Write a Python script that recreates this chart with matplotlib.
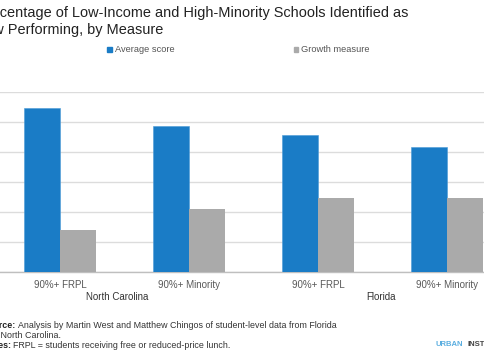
import matplotlib
matplotlib.use("Agg")
import matplotlib.pyplot as plt
from matplotlib.patches import Patch
import numpy as np

# data (percent of schools flagged as low performing)
categories = ["90%+ FRPL", "90%+ Minority", "90%+ FRPL", "90%+ Minority"]
states = ["North Carolina", "Florida"]
avg_score = [27.3, 24.3, 22.8, 20.8]
growth = [7.0, 10.5, 12.3, 12.3]

blue = "#1a7cc6"
grey = "#aaaaaa"

plt.rcParams["font.family"] = ["Liberation Sans", "DejaVu Sans"]

fig = plt.figure(figsize=(4.85, 3.6), dpi=100)
W, H = 485.0, 360.0

# axes is wider than the picture (reference is cropped at both sides)
ax = fig.add_axes([-4.5 / W, (H - 272) / H, 516 / W, 180 / H])
x = np.arange(len(categories))
bw = 0.28
ax.bar(x - bw / 2, avg_score, bw, color=blue, edgecolor="#4a9ad6", linewidth=0.4, zorder=3)
ax.bar(x + bw / 2, growth, bw, color=grey, zorder=3)
ax.set_xlim(-0.5, 3.5)
ax.set_ylim(0, 30)
ax.set_yticks([0, 5, 10, 15, 20, 25, 30])
ax.yaxis.grid(True, color="#dcdcdc", linewidth=1.0, zorder=0)
ax.tick_params(axis="y", left=False, labelleft=False)
ax.set_xticks(x)
ax.set_xticklabels(categories, fontsize=7, color="#595959")
ax.tick_params(axis="x", length=0, pad=6)
for s in ["top", "right", "left"]:
    ax.spines[s].set_visible(False)
ax.spines["bottom"].set_color("#bfbfbf")
ax.spines["bottom"].set_linewidth(1.0)

# state group labels
fig.text(117 / W, 1 - 297 / H, states[0], fontsize=7, color="#333333", ha="center", va="center")
fig.text(381 / W, 1 - 297 / H, states[1], fontsize=7, color="#333333", ha="center", va="center")

# title (left part cut off)
fig.text(-23 / W, 1 - 13 / H, "Percentage of Low-Income and High-Minority Schools Identified as",
         fontsize=10.45, color="#222222", va="center", ha="left")
fig.text(-23 / W, 1 - 30 / H, "Low Performing, by Measure",
         fontsize=10.45, color="#222222", va="center", ha="left")

# legend
handles = [Patch(color=blue, label="Average score"), Patch(color=grey, label="Growth measure")]
fig.legend(handles=handles, ncol=2, loc="center left", bbox_to_anchor=(99 / W, 1 - 50 / H),
           frameon=False, fontsize=6.7, handlelength=0.5, handleheight=0.5, handletextpad=0.3,
           columnspacing=12.8, labelcolor="#555555")

# footer: bold prefix then normal text
fx = -17 / W
renderer = fig.canvas.get_renderer()


def footer_line(y, bold, rest):
    t = fig.text(fx, 1 - y / H, bold, fontsize=6.4, color="#222222", va="center", fontweight="bold")
    bb = t.get_window_extent(renderer)
    fig.text(bb.x1 / W + 2 / W, 1 - y / H, rest, fontsize=6.4, color="#333333", va="center")


footer_line(326, "Source:", "Analysis by Martin West and Matthew Chingos of student-level data from Florida")
fig.text(fx, 1 - 336 / H, "and North Carolina.", fontsize=6.4, color="#333333", va="center")
footer_line(346, "Notes:", "FRPL = students receiving free or reduced-price lunch.")

fig.text(436 / W, 1 - 345 / H, "URBAN", fontsize=5.5, color="#5aaee0", fontweight="bold", va="center")
fig.text(468 / W, 1 - 345 / H, "INSTITUTE", fontsize=5.5, color="#444444", fontweight="bold", va="center")

fig.savefig("out.png", dpi=100)
